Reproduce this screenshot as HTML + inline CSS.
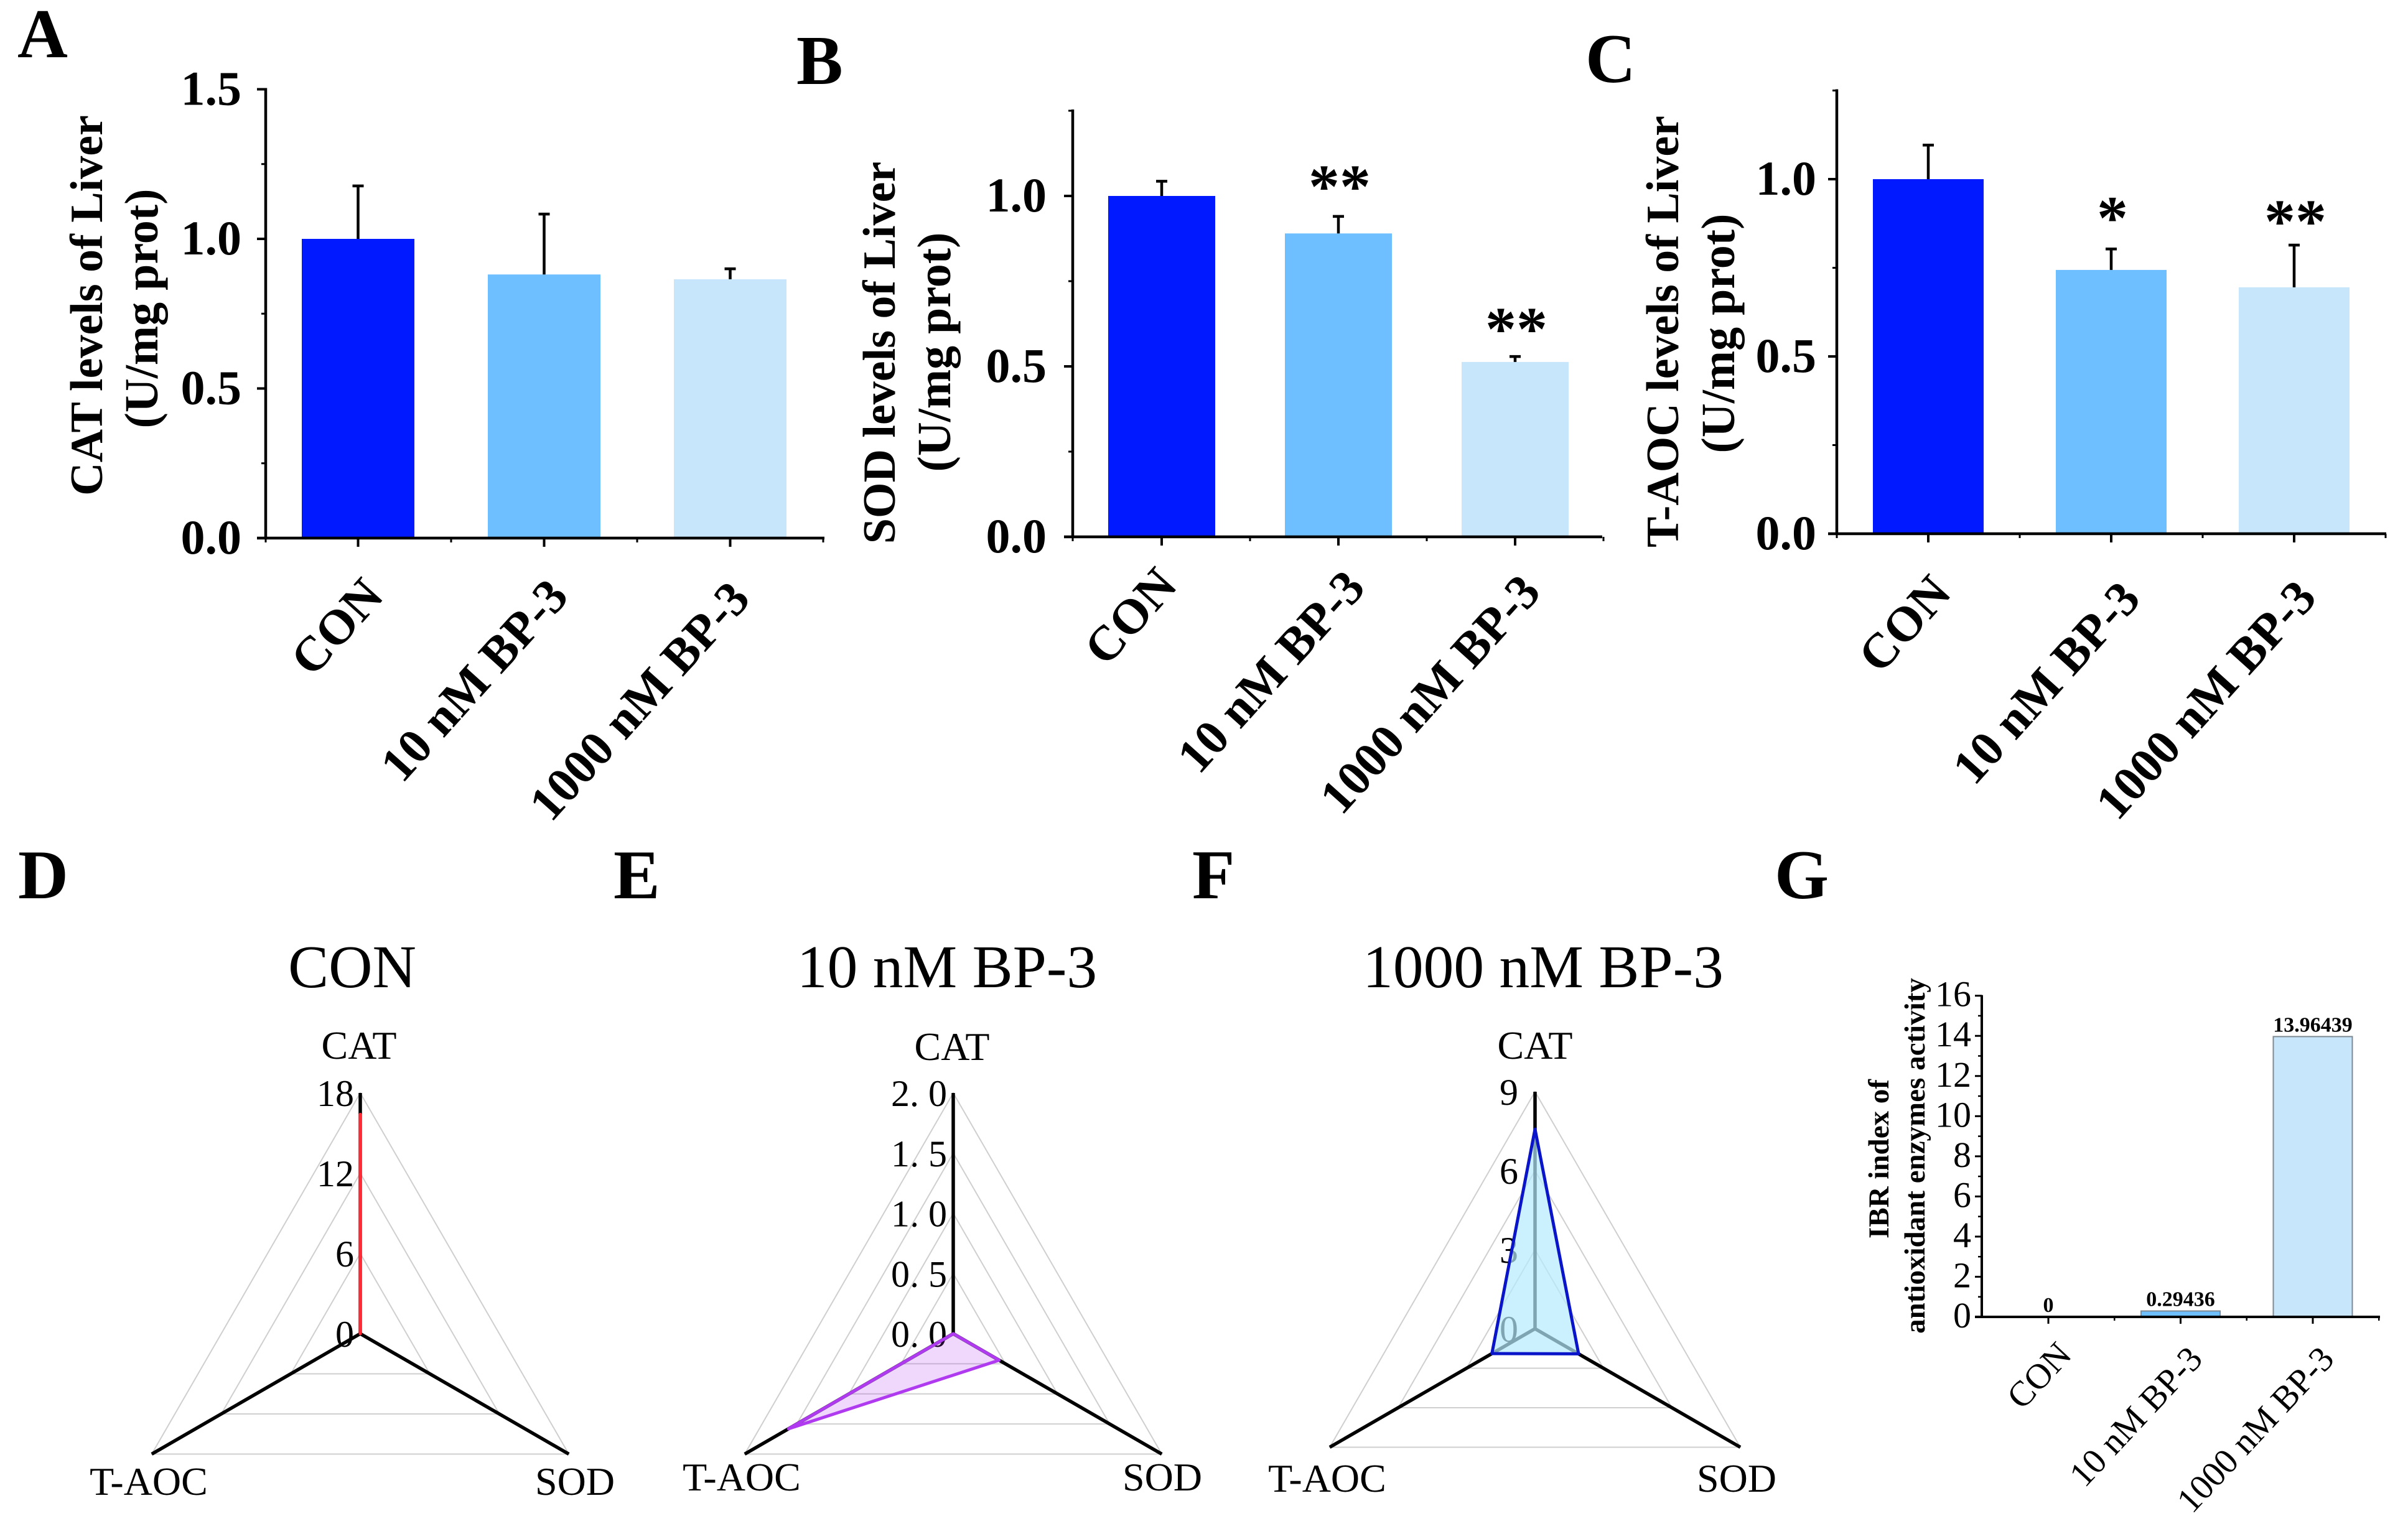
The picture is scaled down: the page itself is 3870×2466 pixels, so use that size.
<!DOCTYPE html>
<html lang="en">
<head>
<meta charset="utf-8">
<title>Liver antioxidant enzyme levels and IBR index</title>
<style>
html,body{margin:0;padding:0;background:#fff;}
svg{display:block;}
text{font-family:"Liberation Serif",serif;fill:#000;}
.letter{font-size:112px;font-weight:bold;}
.ytitle{font-size:74px;font-weight:bold;text-anchor:middle;}
.yunit{font-size:76px;font-weight:bold;text-anchor:middle;}
.rtitle{font-size:97.5px;text-anchor:middle;}
.rlabel{font-size:64px;}
</style>
</head>
<body>
<svg id="figure" xmlns="http://www.w3.org/2000/svg" width="3870" height="2466" viewBox="0 0 3870 2466">
  <rect width="3870" height="2466" fill="#fff"/>

  <text class="letter" x="28" y="92">A</text>
  <text class="letter" x="1280" y="135">B</text>
  <text class="letter" x="2548" y="132">C</text>
  <text class="letter" x="29" y="1444">D</text>
  <text class="letter" x="986" y="1444">E</text>
  <text class="letter" x="1916" y="1444">F</text>
  <text class="letter" x="2852" y="1444">G</text>

  <text class="ytitle" transform="translate(164,491) rotate(-90)">CAT levels of Liver</text>
  <text class="yunit" transform="translate(253,496) rotate(-90)">(U/mg prot)</text>
  <text class="ytitle" transform="translate(1438,567) rotate(-90)">SOD levels of Liver</text>
  <text class="yunit" transform="translate(1527,566) rotate(-90)">(U/mg prot)</text>
  <text class="ytitle" transform="translate(2697,533) rotate(-90)">T-AOC levels of Liver</text>
  <text class="yunit" transform="translate(2787,536) rotate(-90)">(U/mg prot)</text>

  <text class="rtitle" x="566" y="1587">CON</text>
  <text class="rtitle" x="1522" y="1587">10 nM BP-3</text>
  <text class="rtitle" x="2480" y="1587">1000 nM BP-3</text>

  <text class="ytitle" style="font-size:47px" transform="translate(3035,1863) rotate(-90)">IBR index of</text>
  <text class="ytitle" style="font-size:47px" transform="translate(3093,1858) rotate(-90)">antioxidant enzymes activity</text>
</svg>

<script>
// ---- data ----
const categories = ['CON', '10 nM BP-3', '1000 nM BP-3'];
const barColors = ['#0019ff', '#6ebfff', '#c7e5fb'];

const catValues = [1.0, 0.881, 0.865];
const catErrorTops = [1.177, 1.083, 0.9];
const catSignificance = ['', '', ''];
const catTicks = ['0.0', '0.5', '1.0', '1.5'];

const sodValues = [1.0, 0.89, 0.513];
const sodErrorTops = [1.043, 0.94, 0.529];
const sodSignificance = ['', '**', '**'];
const sodTicks = ['0.0', '0.5', '1.0'];

const taocValues = [1.0, 0.744, 0.695];
const taocErrorTops = [1.096, 0.803, 0.814];
const taocSignificance = ['', '*', '**'];
const taocTicks = ['0.0', '0.5', '1.0'];

const radarAxes = ['CAT', 'SOD', 'T-AOC'];
const conRadarValues = [16.4, 0, 0];
const conRadarTicks = ['0', '6', '12', '18'];
const lowRadarValues = [0, 0.44, 1.58];
const lowRadarTicks = ['0. 0', '0. 5', '1. 0', '1. 5', '2. 0'];
const highRadarValues = [7.58, 1.91, 1.89];
const highRadarTicks = ['0', '3', '6', '9'];

const ibrValues = [0, 0.29436, 13.96439];
const ibrPrinted = ['0', '0.29436', '13.96439'];
const ibrTicks = ['0', '2', '4', '6', '8', '10', '12', '14', '16'];

// ---- helpers ----
const svg = document.getElementById('figure');
const NS = 'http://www.w3.org/2000/svg';
function make(tag, attrs, parent) {
  const el = document.createElementNS(NS, tag);
  for (const k in attrs) el.setAttribute(k, attrs[k]);
  (parent || svg).appendChild(el);
  return el;
}
function segment(x1, y1, x2, y2, stroke, width, parent) {
  return make('line', {x1: x1, y1: y1, x2: x2, y2: y2, stroke: stroke, 'stroke-width': width}, parent);
}

// ---- bar panels A, B, C ----
function drawBarPanel(id, box, values, errorTops, significance, ticks) {
  const g = make('g', {});
  
  
  const yScale = v => box.y0 - v * box.unit;
  const xScale = i => box.firstCenter + i * box.step;

  values.forEach((v, i) => {
    const bar = make('rect', {x: xScale(i) - box.barWidth / 2, y: yScale(v), width: box.barWidth, height: box.y0 - yScale(v), fill: barColors[i]}, g);
    
    

    const err = segment(xScale(i), yScale(v), xScale(i), yScale(errorTops[i]), '#000', 4.5, g);
    
    
    const cap = segment(xScale(i) - 9, yScale(errorTops[i]), xScale(i) + 9, yScale(errorTops[i]), '#000', 4.5, g);
    
    

    if (significance[i]) {
      const star = make('text', {x: xScale(i) + 2, y: yScale(errorTops[i]) - box.starGap[i], 'text-anchor': 'middle', 'font-size': 100, 'font-weight': 'bold'}, g);
      star.textContent = significance[i];
      
      
    }

    const cat = make('text', {'text-anchor': 'end', 'font-size': 79, 'font-weight': 'bold', transform: `translate(${xScale(i) + box.labelDx[i]},${box.labelY[i]}) rotate(-48)`}, g);
    cat.textContent = categories[i];
    
    

    const tick = segment(xScale(i), box.y0, xScale(i), box.y0 + 14, '#000', 4, g);
    
    
    const minor = segment(xScale(i) + box.step / 2, box.y0, xScale(i) + box.step / 2, box.y0 + 7, '#000', 3, g);
    
    
  });

  const yAxis = segment(box.x0, box.y0 + 2, box.x0, yScale(box.max) - 2, '#000', 4.5, g);
  
  
  const xAxis = segment(box.x0 - 14, box.y0, box.xEnd, box.y0, '#000', 4.5, g);
  
  
  const endTick = segment(box.x0, box.y0, box.x0, box.y0 + 7, '#000', 3, g);
  
  

  ticks.forEach(t => {
    const v = parseFloat(t);
    const tick = segment(box.x0 - 14, yScale(v), box.x0, yScale(v), '#000', 4, g);
    
    
    const label = make('text', {x: box.labelRight, y: yScale(v) + 25, 'text-anchor': 'end', 'font-size': 78, 'font-weight': 'bold'}, g);
    label.textContent = t;
    
    
    if (v + 0.25 <= box.max) {
      const minor = segment(box.x0 - 7, yScale(v + 0.25), box.x0, yScale(v + 0.25), '#000', 3, g);
      
      
    }
  });
}

drawBarPanel('cat', {x0: 427, y0: 865, unit: 481, max: 1.5, xEnd: 1325, firstCenter: 575.5, step: 299, barWidth: 181, labelRight: 388, starGap: [0, 0, 0], labelDx: [44, 42, 35], labelY: [960, 961, 965]}, catValues, catErrorTops, catSignificance, catTicks);
drawBarPanel('sod', {x0: 1724, y0: 863, unit: 548, max: 1.25, xEnd: 2575, firstCenter: 1867, step: 284, barWidth: 172, labelRight: 1682, starGap: [0, 15, 11], labelDx: [28, 46, 44], labelY: [943, 947, 954]}, sodValues, sodErrorTops, sodSignificance, sodTicks);
drawBarPanel('taoc', {x0: 2952, y0: 858, unit: 570, max: 1.25, xEnd: 3835, firstCenter: 3099, step: 294, barWidth: 178, labelRight: 2919, starGap: [0, 17, 5], labelDx: [40, 50, 39], labelY: [955, 965, 963]}, taocValues, taocErrorTops, taocSignificance, taocTicks);

// ---- radar panels D, E, F ----
function drawRadar(id, geo, values, ticks, color) {
  const g = make('g', {});
  
  
  const max = parseFloat(ticks[ticks.length - 1].replace(' ', ''));
  const angles = [-90, 30, 150].map(a => a * Math.PI / 180);
  const point = (axis, v) => {
    const r = geo.r * v / max;
    return [geo.cx + r * Math.cos(angles[axis]), geo.cy + r * Math.sin(angles[axis])];
  };

  ticks.forEach((t, i) => {
    const v = parseFloat(t.replace(' ', ''));
    if (v > 0) {
      const ring = make('polygon', {points: [0, 1, 2].map(a => point(a, v).join(',')).join(' '), fill: 'none', stroke: '#cfcfcf', 'stroke-width': 2}, g);
      
      
    }
    const label = make('text', {x: geo.cx - geo.labelGap, y: point(0, v)[1] + 21, 'text-anchor': 'end', 'font-size': 60}, g);
    label.textContent = t;
    
    
  });

  radarAxes.forEach((name, a) => {
    const end = point(a, max);
    const axis = segment(geo.cx, geo.cy, end[0], end[1], '#000', 5.5, g);
    
    
    const label = make('text', {class: 'rlabel', x: geo.labelX[a], y: geo.labelY[a], 'text-anchor': 'middle'}, g);
    label.textContent = name;
    
    
  });

  const shape = make('polygon', {points: values.map((v, a) => point(a, v).join(',')).join(' '), fill: color.fill, 'fill-opacity': color.opacity, stroke: color.stroke, 'stroke-width': 5, 'stroke-linejoin': 'round'}, g);
  
  
}

drawRadar('con', {cx: 579, cy: 2144, r: 387, labelGap: 10, labelX: [577, 924, 239], labelY: [1702, 2403, 2403]}, conRadarValues, conRadarTicks, {fill: '#ff2a36', opacity: 0.3, stroke: '#ff2a36'});
drawRadar('low', {cx: 1532, cy: 2144, r: 387, labelGap: 10, labelX: [1530, 1868, 1192], labelY: [1704, 2396, 2396]}, lowRadarValues, lowRadarTicks, {fill: '#b03af0', opacity: 0.2, stroke: '#b03af0'});
drawRadar('high', {cx: 2467, cy: 2136, r: 381, labelGap: 27, labelX: [2467, 2791, 2133], labelY: [1702, 2398, 2398]}, highRadarValues, highRadarTicks, {fill: '#b5ebff', opacity: 0.7, stroke: '#0a14c8'});

// ---- IBR bar panel G ----
const ibrLabelDx = [40, 38, 37];
const ibrLabelY = [2180, 2187, 2187];
(function drawIbr() {
  const g = make('g', {});
  
  
  const x0 = 3185, y0 = 2117, unit = 32.27, xEnd = 3825, first = 3292, step = 212.5, barWidth = 127;
  const yScale = v => y0 - v * unit;
  const xScale = i => first + i * step;

  ibrValues.forEach((v, i) => {
    const bar = make('rect', {x: xScale(i) - barWidth / 2, y: yScale(v), width: barWidth, height: y0 - yScale(v), fill: barColors[i], stroke: '#7f8a92', 'stroke-width': 2}, g);
    
    
    const value = make('text', {x: xScale(i), y: yScale(v) - 8, 'text-anchor': 'middle', 'font-size': 34, 'font-weight': 'bold'}, g);
    value.textContent = ibrPrinted[i];
    
    
    const tick = segment(xScale(i), y0, xScale(i), y0 + 11, '#000', 3, g);
    
    
    const minor = segment(xScale(i) + step / 2, y0, xScale(i) + step / 2, y0 + 6, '#000', 2.5, g);
    
    
    const cat = make('text', {'text-anchor': 'end', 'font-size': 57, transform: `translate(${xScale(i) + ibrLabelDx[i]},${ibrLabelY[i]}) rotate(-47)`}, g);
    cat.textContent = categories[i];
    
    
  });

  const yAxis = segment(x0, y0 + 2, x0, yScale(16) - 1, '#000', 4, g);
  
  
  const xAxis = segment(x0 - 11, y0, xEnd, y0, '#000', 4, g);
  
  

  ibrTicks.forEach(t => {
    const v = parseFloat(t);
    const tick = segment(x0 - 11, yScale(v), x0, yScale(v), '#000', 3, g);
    
    
    const label = make('text', {x: 3168, y: yScale(v) + 17, 'text-anchor': 'end', 'font-size': 58}, g);
    label.textContent = t;
    
    
    if (v < 16) {
      const minor = segment(x0 - 6, yScale(v + 1), x0, yScale(v + 1), '#000', 2.5, g);
      
      
    }
  });
})();
</script>
</body>
</html>
